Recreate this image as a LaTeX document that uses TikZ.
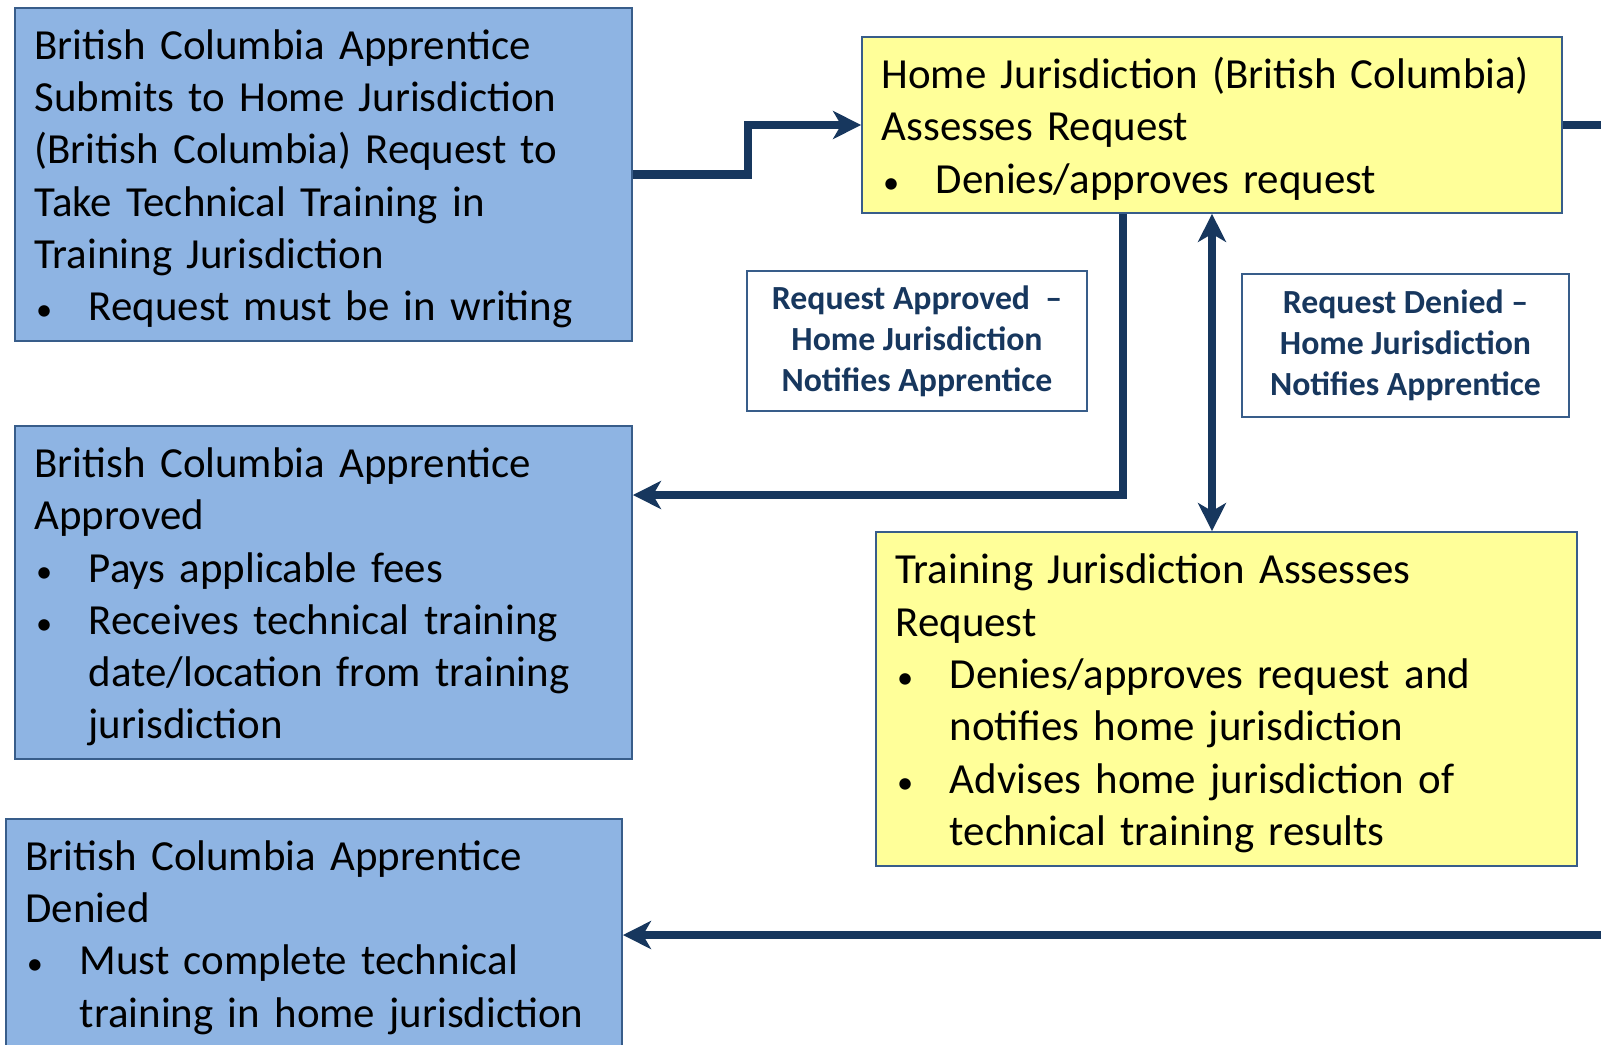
\documentclass[tikz,border=0pt]{standalone}
\usepackage{fontspec}
\setmainfont{Carlito}
\usetikzlibrary{arrows.meta}
\setlength{\parindent}{0pt}
\setlength{\parskip}{0pt}
\definecolor{bcblue}{HTML}{8EB4E3}
\definecolor{hjyellow}{HTML}{FFFF99}
\definecolor{edgeblue}{HTML}{385D8A}
\definecolor{flownavy}{HTML}{17375E}
\newcommand{\bpoint}{\par\hspace*{1pt}\makebox[37.5pt][l]{\fontsize{23}{23}\selectfont\textbullet}}
\newcommand{\bnext}{\\\hspace*{38.5pt}}
\newcommand{\topstrut}{\rule{0pt}{27.5pt}}
\begin{document}
\begin{tikzpicture}[x=0.025cm,y=-0.025cm,
    panel/.style={draw=edgeblue, line width=1.2pt, align=left, inner xsep=14pt, inner ysep=0pt,
        font=\fontsize{30.5}{37.2}\selectfont},
    bcpanel/.style={panel, fill=bcblue},
    hjpanel/.style={panel, fill=hjyellow},
    tag/.style={draw=edgeblue, line width=1.2pt, fill=white, align=center, text=flownavy,
        font=\bfseries\fontsize{24}{29.2}\selectfont},
    flow/.style={draw=flownavy, line width=0.21cm, -{Stealth[length=0.7cm,width=0.7cm,inset=0.2cm]}}]
    \useasboundingbox (0,0) rectangle (1601,1044);
    \clip (0,0) rectangle (1601,1044);

    % apprentice side
    \node[bcpanel, text width=410.9pt, minimum height=236.9pt] (submit) at (323.5,174.5)
        {\topstrut British Columbia Apprentice\\ Submits to Home Jurisdiction\\ (British Columbia) Request to\\
         Take Technical Training in\\ Training Jurisdiction
         \bpoint Request must be in writing};
    \node[bcpanel, text width=410.9pt, minimum height=236.9pt] (approved) at (323.5,592.5)
        {\topstrut British Columbia Apprentice\\ Approved
         \bpoint Pays applicable fees
         \bpoint Receives technical training\bnext date/location from training\bnext jurisdiction};
    \node[bcpanel, text width=410.2pt, minimum height=162.2pt] (denied) at (314,933)
        {\topstrut British Columbia Apprentice\\ Denied
         \bpoint Must complete technical\bnext training in home jurisdiction};

    % jurisdictions
    \node[hjpanel, text width=469.9pt, minimum height=125.2pt] (home) at (1212,125)
        {\topstrut Home Jurisdiction (British Columbia)\\ Assesses Request
         \bpoint Denies/approves request};
    \node[hjpanel, text width=470.6pt, minimum height=237.6pt] (train) at (1226.5,699)
        {\topstrut Training Jurisdiction Assesses\\ Request
         \bpoint Denies/approves request and\bnext notifies home jurisdiction
         \bpoint Advises home jurisdiction of\bnext technical training results};

    % notes
    \node[tag, minimum width=241.8pt, minimum height=99.6pt] (okNote) at (917,341)
        {Request Approved~~--\\ Home Jurisdiction\\ Notifies Apprentice};
    \node[tag, minimum width=232.6pt, minimum height=101.7pt] (noNote) at (1405.5,345.5)
        {Request Denied --\\ Home Jurisdiction\\ Notifies Apprentice};

    \coordinate (apr) at (1123,495);
    \coordinate (outR) at (1601,125);
    \coordinate (inR) at (1601,935);

    \draw[flow] (submit.east) -- ++(115,0) |- (home.west);
    \draw[flow] (home.south -| apr) -- (apr) -- (apr -| approved.east);
    \draw[flow, {Stealth[length=0.7cm,width=0.7cm,inset=0.2cm]}-{Stealth[length=0.7cm,width=0.7cm,inset=0.2cm]}]
        (home.south) -- (home.south |- train.north);
    \draw[flow, -] (home.east) -- (outR);
    \draw[flow] (inR) -- (inR -| denied.east);
\end{tikzpicture}
\end{document}
